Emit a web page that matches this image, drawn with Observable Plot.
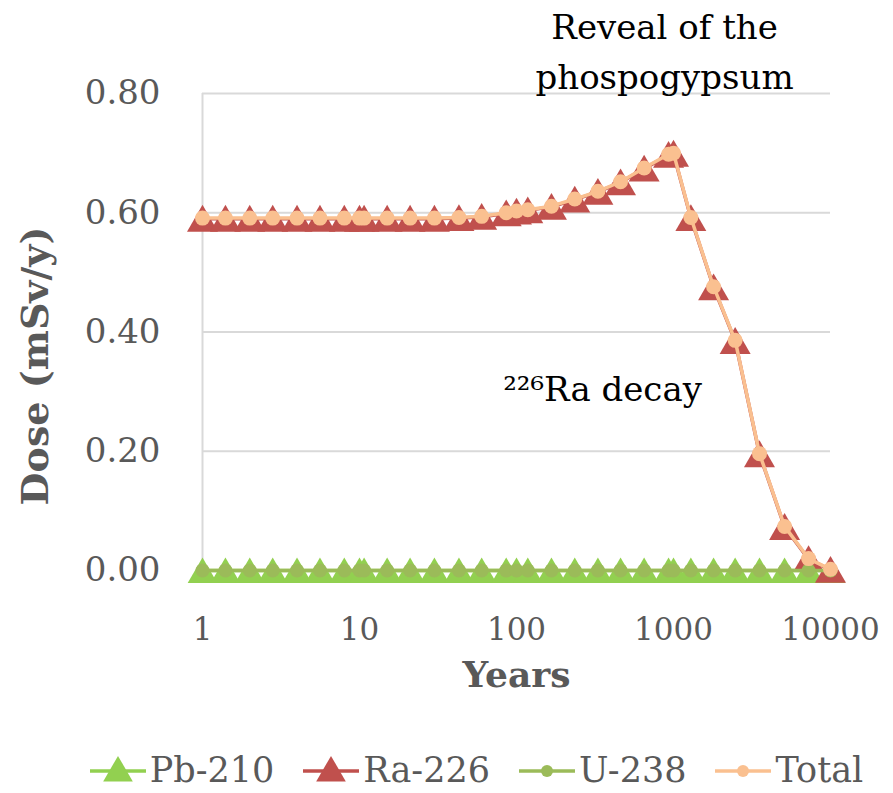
<!DOCTYPE html>
<html>
<head>
<meta charset="utf-8">
<script src="https://cdn.jsdelivr.net/npm/d3@7"></script>
<script src="https://cdn.jsdelivr.net/npm/@observablehq/plot@0.6"></script>
<style>
  html, body { margin: 0; padding: 0; background: #fff; }
  #chart { width: 893px; height: 793px; overflow: hidden; }
  .legend { box-sizing: border-box; display: flex; align-items: center; justify-content: center; height: 53px; padding-top: 8px; padding-left: 58px;
    font-family: "DejaVu Serif", serif; font-size: 35px; line-height: 1.1; color: #595959; }
  .legend .item { display: flex; align-items: center; margin: 0 27px 0 0; }
  .legend .item:last-child { margin-right: 0; }
  .legend svg { margin-right: 2px; }
</style>
</head>
<body>
<div id="chart"></div>
<script>
// ---- data ----
const years = [1, 1.4, 2, 2.8, 4, 5.6, 8, 10, 10.7, 15, 21, 30, 43, 60, 86, 100, 118, 167, 235, 330, 460, 650, 930, 1000, 1290, 1800, 2470, 3530, 5100, 7250, 10000];
const pb210 = [0, 0, 0, 0, 0, 0, 0, 0, 0, 0, 0, 0, 0, 0, 0, 0, 0, 0, 0, 0, 0, 0, 0, 0, 0, 0, 0, 0, 0, 0, 0];
const ra226 = [0.590, 0.590, 0.590, 0.590, 0.590, 0.590, 0.590, 0.590, 0.590, 0.590, 0.590, 0.590, 0.591, 0.593, 0.599, 0.602, 0.604, 0.610, 0.622, 0.635, 0.651, 0.674, 0.697, 0.699, 0.591, 0.475, 0.385, 0.195, 0.073, 0.019, 0.001];
const u238  = [0, 0, 0, 0, 0, 0, 0, 0, 0, 0, 0, 0, 0, 0, 0, 0, 0, 0, 0, 0, 0, 0, 0, 0, 0, 0, 0, 0, 0, 0, 0];
const total = [0.591, 0.591, 0.591, 0.591, 0.591, 0.591, 0.591, 0.591, 0.591, 0.591, 0.591, 0.591, 0.592, 0.594, 0.600, 0.603, 0.605, 0.611, 0.623, 0.636, 0.652, 0.675, 0.698, 0.700, 0.592, 0.476, 0.386, 0.196, 0.074, 0.020, 0.002];

const seriesNames = ["Pb-210", "Ra-226", "U-238", "Total"];
const seriesColors = ["#92D050", "#C0504D", "#9BBB59", "#FAC090"];
const xTicks = [1, 10, 100, 1000, 10000];
const yTicks = [0, 0.2, 0.4, 0.6, 0.8];
const annX = [877, 353];
const annY = [0.876, 0.31];
const annText = ["Reveal of the\nphospogypsum", "²²⁶Ra decay"];

const allValues = [pb210, ra226, u238, total];
const rows = [];
seriesNames.forEach((name, i) => years.forEach((yr, j) => rows.push({series: name, year: yr, dose: allValues[i][j]})));
const sub = name => rows.filter(r => r.series === name);
const annotations = annText.map((t, i) => ({x: annX[i], y: annY[i], text: t}));

const serif = "'DejaVu Serif', serif";

const marks = [
  Plot.gridY(yTicks.filter(d => d > 0), {stroke: "#d9d9d9", strokeOpacity: 1, strokeWidth: 2}),
  Plot.ruleX([xTicks[0]], {y1: yTicks[0], y2: yTicks[yTicks.length - 1], stroke: "#d9d9d9", strokeWidth: 2}),
  Plot.axisX(xTicks, {tickSize: 0, tickPadding: 47, tickFormat: d => String(d), fontSize: 31, fill: "#595959", label: null}),
  Plot.axisY(yTicks, {tickSize: 0, tickPadding: 42, tickFormat: d3.format(".2f"), fontSize: 34, fill: "#595959", label: null}),
];

const symbols = ["triangle", "triangle", "circle", "circle"];
const radii = [11, 11.5, 7, 7.5];
const dys = [4, 4, 0, 0];
seriesNames.forEach((name, i) => {
  marks.push(Plot.line(sub(name), {x: "year", y: "dose", stroke: seriesColors[i], strokeWidth: 3.5}));
  marks.push(Plot.dot(sub(name), {x: "year", y: "dose", symbol: symbols[i], r: radii[i], fill: seriesColors[i], dy: dys[i]}));
});

marks.push(
  Plot.text(["Years"], {frameAnchor: "bottom", dy: 116, fontWeight: "bold", fontSize: 36, fill: "#595959"}),
  Plot.text(["Dose (mSv/y)"], {frameAnchor: "left", textAnchor: "middle", rotate: -90, dx: -167, dy: 34, fontWeight: "bold", fontSize: 38, fill: "#595959"}),
  Plot.text(annotations, {x: "x", y: "y", text: "text", fontSize: 34, fill: "#000", lineHeight: 1.45})
);

const chart = Plot.plot({
  width: 893,
  height: 740,
  marginTop: 93,
  marginBottom: 170,
  marginLeft: 202,
  marginRight: 63,
  x: {type: "log", domain: [1, 10000]},
  y: {domain: [0, 0.8]},
  style: {fontFamily: serif, color: "#595959", background: "#fff", overflow: "visible"},
  marks
});
document.getElementById("chart").appendChild(chart);

// legend (below the SVG)
const legend = document.createElement("div");
legend.className = "legend";
seriesNames.forEach((name, i) => {
  const item = document.createElement("div");
  item.className = "item";
  const ns = "http://www.w3.org/2000/svg";
  const svg = document.createElementNS(ns, "svg");
  svg.setAttribute("width", 60); svg.setAttribute("height", 36);
  const line = document.createElementNS(ns, "line");
  line.setAttribute("x1", 2); line.setAttribute("x2", 58); line.setAttribute("y1", 18); line.setAttribute("y2", 18);
  line.setAttribute("stroke", seriesColors[i]); line.setAttribute("stroke-width", 3.5);
  svg.appendChild(line);
  if (symbols[i] === "triangle") {
    const p = document.createElementNS(ns, "path");
    p.setAttribute("d", d3.symbol(d3.symbolTriangle, Math.PI * 11 * 11)());
    p.setAttribute("transform", "translate(30,20)");
    p.setAttribute("fill", seriesColors[i]);
    svg.appendChild(p);
  } else {
    const c = document.createElementNS(ns, "circle");
    c.setAttribute("cx", 30); c.setAttribute("cy", 18); c.setAttribute("r", 6);
    c.setAttribute("fill", seriesColors[i]);
    svg.appendChild(c);
  }
  item.appendChild(svg);
  const span = document.createElement("span");
  span.textContent = name;
  item.appendChild(span);
  legend.appendChild(item);
});
document.getElementById("chart").appendChild(legend);
</script>
</body>
</html>
